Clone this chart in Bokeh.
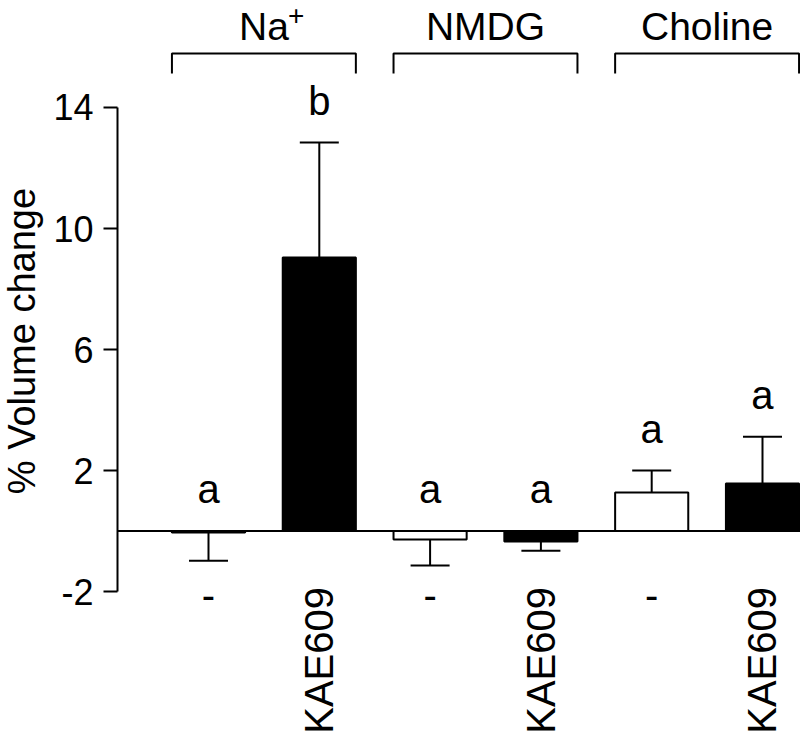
from math import pi
from bokeh.plotting import figure
from bokeh.layouts import row
from bokeh.models import ColumnDataSource, Range1d, FixedTicker, Span
from bokeh.core.properties import value
from bokeh.embed import file_html
from bokeh.resources import INLINE

# ---- data ----
groups = ["Na", "NMDG", "Choline"]
group_superscripts = ["+", "", ""]
treatments = ["-", "KAE609"]
means = [-0.05, 9.04, -0.28, -0.35, 1.27, 1.57]
sems = [0.93, 3.80, 0.86, 0.30, 0.73, 1.55]
letters = ["a", "b", "a", "a", "a", "a"]
bar_colors = ["white", "black"]
y_ticks = [-2, 2, 6, 10, 14]
y_tick_labels = ["-2", "2", "6", "10", "14"]
y_title = "% Volume change"

FONT = "Liberation Sans"

n = len(means)
xs = [i + 1 for i in range(n)]
x_labels = [treatments[i % 2] for i in range(n)]
fills = [bar_colors[i % 2] for i in range(n)]
ends = [m + s if m > 0 else m - s for m, s in zip(means, sems)]
letter_y = [max(e, 0) for e in ends]

BAR_W = 0.66
CAP_HALF = 0.176
LEFT_W = 50
H = 737

yr = Range1d(-6.826, 17.537)

src = ColumnDataSource(dict(x=xs, mean=means, end=ends, fill=fills,
                            cap0=[x - CAP_HALF for x in xs], cap1=[x + CAP_HALF for x in xs],
                            letter=letters, ly=letter_y))

# ---- narrow strip that carries the y-axis title ----
pl = figure(width=LEFT_W, height=H, x_range=Range1d(0, LEFT_W), y_range=yr,
            output_backend="svg", toolbar_location=None, x_axis_location=None,
            y_axis_location=None, min_border_left=0, min_border_right=0,
            min_border_top=0, min_border_bottom=0, title=None)
pl.outline_line_color = None
for g in pl.grid:
    g.visible = False
pl.text(x=[21], y=[6.28], text=[y_title], angle=pi / 2, text_align="center",
        text_baseline="middle", text_font=value(FONT), text_font_size="38px", text_color="black")

# ---- main chart ----
p = figure(width=800 - LEFT_W, height=H, x_range=Range1d(0.1787, 6.343), y_range=yr,
           output_backend="svg", toolbar_location=None, x_axis_location=None,
           y_axis_location="left", min_border_left=117 - LEFT_W, min_border_right=0,
           min_border_top=0, min_border_bottom=0, title=None)
p.outline_line_color = None
for g in p.grid:
    g.visible = False

ax = p.yaxis[0]
ax.bounds = (-2, 14)
ax.ticker = FixedTicker(ticks=y_ticks)
ax.major_label_overrides = {t: l for t, l in zip(y_ticks, y_tick_labels)}
ax.axis_line_width = 2
ax.axis_line_color = "black"
ax.major_tick_line_width = 2
ax.major_tick_line_color = "black"
ax.major_tick_out = 14
ax.major_tick_in = 0
ax.minor_tick_out = 0
ax.minor_tick_in = 0
ax.major_label_standoff = 10
ax.major_label_text_font = FONT
ax.major_label_text_font_size = "36px"
ax.major_label_text_color = "black"

# zero line
p.add_layout(Span(location=0, dimension="width", line_color="black", line_width=2))

# error bars (one-sided)
p.segment(x0="x", y0="mean", x1="x", y1="end", source=src, line_color="black", line_width=2)
p.segment(x0="cap0", y0="end", x1="cap1", y1="end", source=src, line_color="black", line_width=2)

# bars
p.vbar(x="x", top="mean", bottom=0, width=BAR_W, source=src, fill_color="fill",
       line_color="black", line_width=2)

# significance letters
p.text(x="x", y="ly", text="letter", source=src, y_offset=-42, text_align="center",
       text_baseline="middle", text_font=value(FONT), text_font_size="40px", text_color="black")

# x category labels
dash_src = ColumnDataSource(dict(x=[x for x, l in zip(xs, x_labels) if l == treatments[0]],
                                 t=[l for l in x_labels if l == treatments[0]]))
kae_src = ColumnDataSource(dict(x=[x for x, l in zip(xs, x_labels) if l == treatments[1]],
                                t=[l for l in x_labels if l == treatments[1]]))
p.text(x="x", y=-2.10, text="t", source=dash_src, text_align="center", text_baseline="middle",
       text_font=value(FONT), text_font_size="40px", text_color="black")
p.text(x="x", y=-1.85, text="t", source=kae_src, angle=pi / 2, text_align="right",
       text_baseline="middle", text_font=value(FONT), text_font_size="40px", text_color="black")

# group brackets and labels
gx = [(xs[2 * i] + xs[2 * i + 1]) / 2 for i in range(len(groups))]
half = BAR_W / 2
br_top, br_bot = 15.785, 15.124
p.multi_line(xs=[[xs[2 * i] - half, xs[2 * i] - half, xs[2 * i + 1] + half, xs[2 * i + 1] + half]
                 for i in range(len(groups))],
             ys=[[br_bot, br_top, br_top, br_bot] for _ in groups], line_color="black", line_width=2)
gsrc = ColumnDataSource(dict(x=gx, t=groups, sup=group_superscripts))
p.text(x="x", y=16.68, text="t", source=gsrc, text_align="center", text_baseline="middle",
       text_font=value(FONT), text_font_size="39px", text_color="black")
p.text(x="x", y=16.68, text="sup", source=gsrc, x_offset=24, y_offset=-11, text_align="left",
       text_baseline="middle", text_font=value(FONT), text_font_size="28px", text_color="black")

layout = row(pl, p)
open("out.html", "w").write(file_html(layout, INLINE))
